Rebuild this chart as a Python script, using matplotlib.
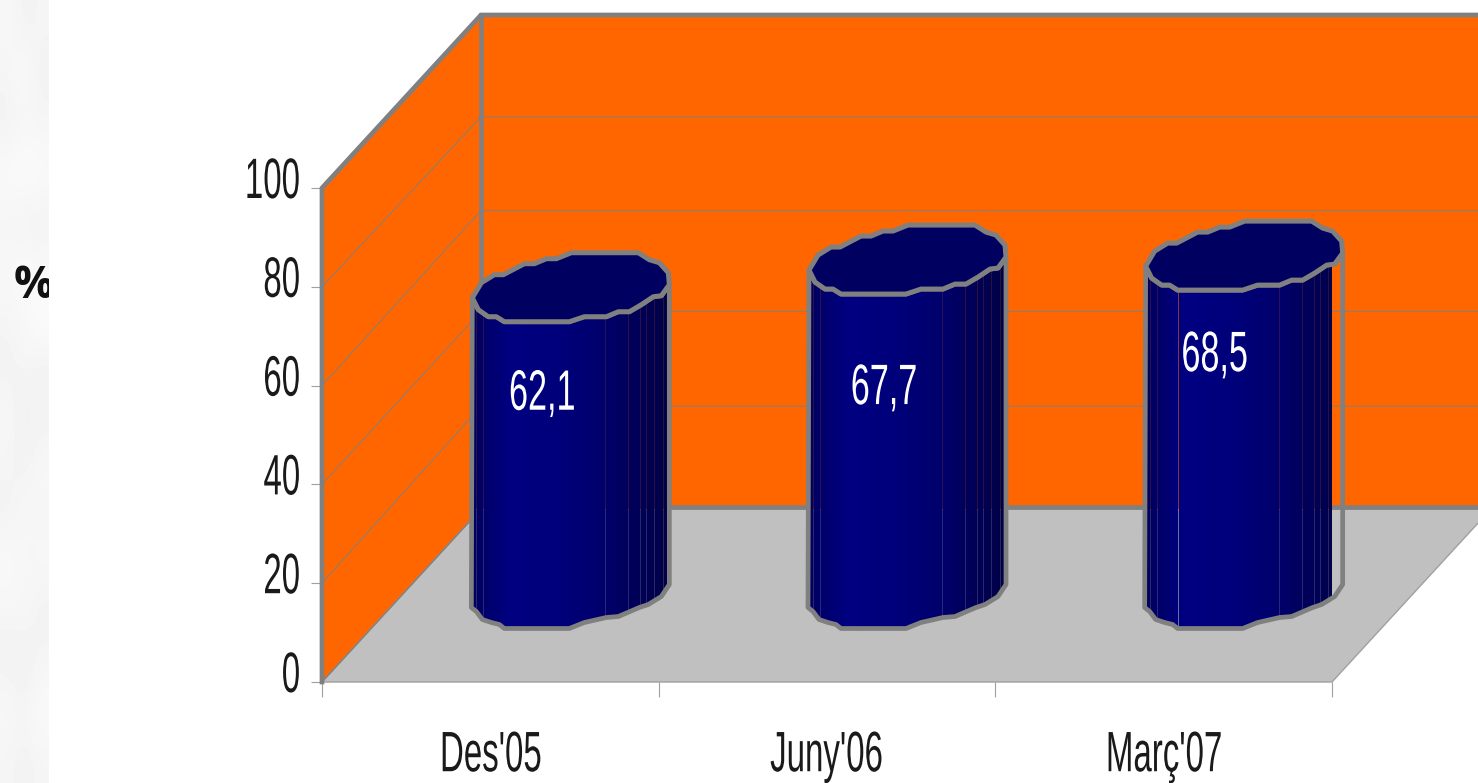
import numpy as np
import matplotlib
matplotlib.use("Agg")
import matplotlib.pyplot as plt
from matplotlib.patches import Polygon
from matplotlib.patheffects import AbstractPathEffect
from matplotlib.transforms import Affine2D

categories = ["Des'05", "Juny'06", "Març'07"]
values = [62.1, 67.7, 68.5]
value_labels = ["62,1", "67,7", "68,5"]
y_ticks = [0, 20, 40, 60, 80, 100]
unit_label = "%"

W, H = 1478, 783
ORANGE, FLOOR, EDGE, TEXT = "#FF6600", "#C0C0C0", "#808080", "#1a1a1a"
FONT = ["Liberation Sans", "DejaVu Sans"]
FS = 41
SQ = 0.58

plt.rcParams["font.family"] = FONT


class Squeeze(AbstractPathEffect):
    """Narrow the glyphs horizontally around an anchor (no condensed light font is installed)."""

    def __init__(self, sx, anchor="center", dy=0):
        super().__init__()
        self.sx, self.anchor, self.dy = sx, anchor, dy

    def draw_path(self, renderer, gc, tpath, affine, rgbFace=None):
        ext = affine.transform_path(tpath).get_extents()
        x0 = {"left": ext.x0, "center": (ext.x0 + ext.x1) / 2, "right": ext.x1}[self.anchor]
        squeezed = affine + Affine2D().translate(-x0, 0).scale(self.sx, 1).translate(x0, self.dy)
        renderer.draw_path(gc, tpath, squeezed, rgbFace)


fig = plt.figure(figsize=(W / 100, H / 100), dpi=100, facecolor="white")

# left blotchy stripe
stripe = fig.add_axes([0, 0, 49 / W, 1])
shade = np.array([
    [.97, .95, .96], [.96, .98, .95], [.95, .96, .96], [.98, .99, .98],
    [.96, .95, .95], [.97, .98, .97], [.96, .97, .99], [.95, .96, .95],
    [.97, .94, .95], [.96, .95, .97], [.95, .97, .96], [.98, .96, .97],
    [.96, .97, .95], [.95, .94, .96], [.97, .96, .98], [.96, .95, .96],
])
stripe.imshow(shade, cmap="gray", vmin=0, vmax=1, aspect="auto",
              interpolation="bicubic", extent=(0, 49, H, 0))
stripe.set_xlim(0, 49)
stripe.set_ylim(H, 0)
stripe.axis("off")
stripe.text(14, 287, unit_label, fontsize=32, fontweight="bold", family="Open Sans",
            color="#111111", ha="left", va="center", clip_on=True)

# main axes: the front plane of the 3-D box
LEFT, RIGHT, BOTTOM, TOP = 322, 1332, 682, 188
ax = fig.add_axes([LEFT / W, 1 - BOTTOM / H, (RIGHT - LEFT) / W, (BOTTOM - TOP) / H])
ax.set_facecolor("none")
ax.set_xlim(0, 3)
ax.set_ylim(0, 100)
PX = (RIGHT - LEFT) / 3
PY = (BOTTOM - TOP) / 100
DX, DY = 159 / PX, 173 / PY  # depth vector in data units


def box(pts, **kw):
    ax.add_patch(Polygon(pts, closed=True, clip_on=False, **kw))


box([(0, 0), (DX, DY), (DX, 100 + DY), (0, 100)], fc=ORANGE, ec="none", zorder=1)
box([(DX, DY), (3 + DX, DY), (3 + DX, 100 + DY), (DX, 100 + DY)], fc=ORANGE, ec="none", zorder=1)
box([(0, 0), (3, 0), (3 + DX, DY), (DX, DY)], fc=FLOOR, ec="#a0a0a0", lw=1, zorder=1.5)

grid_nudge = [-4, 0, -2, 3]  # the reference's rasterised gridlines, px up on the back wall
for t, n in zip(y_ticks[1:-1], grid_nudge):
    yb = t + DY - n / PY
    ax.plot([0, DX, 3 + DX], [t, yb, yb], color=EDGE, lw=0.7, clip_on=False, zorder=2)
for xs, ys, lw in [
    ([0, 0, DX, 3 + DX], [0, 100, 100 + DY, 100 + DY], 3.4),
    ([DX, DX], [100 + DY, DY], 3.4),
    ([DX, 3 + DX], [DY + 1.7 / PY, DY + 1.7 / PY], 3.4),
    ([0, DX], [0, DY], 1.0),
]:
    ax.plot(xs, ys, color=EDGE, lw=lw, clip_on=False, zorder=2.2, solid_joinstyle="miter")

# polygonal outline of a cylinder's end, pixels from its centre (x right, y down)
cap = np.array([
    (-98, 9), (-92, 21), (-82, 28), (-74, 28), (-66, 33), (-1, 33), (14, 28), (36, 28), (48, 23),
    (59, 23), (71, 16), (83, 8), (91, 7), (99, -4), (98, -16), (89, -26), (79, -29),
    (68, -36), (1, -36), (-14, -30), (-24, -30), (-36, -25), (-46, -25), (-67, -14),
    (-76, -14), (-89, -6),
], dtype=float)
front = cap[:14]  # left extreme round the front to right extreme
base_front = np.array([
    (-99, 12), (-94, 16), (-88, 24), (-79, 27), (-71, 29), (-66, 33), (-1, 33), (14, 27),
    (36, 22), (48, 21), (69, 12), (78, 9), (91, 1), (99, -11),
], dtype=float)
facets = [-94, -87, 35, 58, 70, 76, 84, 93, 98]
bright = np.array([-98, -88, -60, -10, 35, 60, 80, 99])
blue = np.array([92, 104, 130, 122, 108, 92, 82, 70])
gradient = np.zeros((1, 198, 3), dtype=np.uint8)
gradient[0, :, 2] = np.interp(np.linspace(-99, 99, 198), bright, blue)

for i, v in enumerate(values):
    cx, by = i + 0.5 + 160 / PX / 2, DY / 2
    to_data = lambda pts, y0: np.column_stack([cx + pts[:, 0] / PX, y0 - pts[:, 1] / PY])
    top = to_data(cap, by + v)
    f_top, f_base = to_data(front, by + v), to_data(base_front, by)
    body = np.vstack([f_top, f_base[::-1]])
    patch = Polygon(body, closed=True, fc="none", ec=EDGE, lw=3.4, joinstyle="round",
                    clip_on=False, zorder=4.5)
    im = ax.imshow(gradient, aspect="auto", interpolation="bilinear", zorder=3,
                   extent=(cx - 99 / PX, cx + 99 / PX, by - 40 / PY, by + v + 40 / PY))
    ax.add_patch(patch)
    im.set_clip_path(Polygon(body, closed=True, transform=ax.transData))
    # fine facet seams pick up what lies behind them
    for fx in facets:
        x = cx + fx / PX
        yt = np.interp(fx, front[:, 0], f_top[:, 1])
        yb = np.interp(fx, base_front[:, 0], f_base[:, 1])
        ym = max(DY, yb)
        ax.plot([x, x], [ym, yt], color=ORANGE, alpha=0.18, lw=0.7, zorder=3.5)
        ax.plot([x, x], [yb, ym], color=FLOOR, alpha=0.22, lw=0.7, zorder=3.5)
    if i == 2:  # one seam on the last cylinder shows through clearly
        x = cx - 66 / PX
        ax.plot([x, x], [DY, by + v - 33 / PY], color=ORANGE, alpha=0.55, lw=0.7, zorder=3.6)
        ax.plot([x, x], [by - 33 / PY, DY], color=FLOOR, alpha=0.6, lw=0.7, zorder=3.6)
    ax.add_patch(Polygon(top, closed=True, fc="#000060", ec=EDGE, lw=3.6, joinstyle="round",
                         clip_on=False, zorder=5))

# value labels
label_offsets = [(-28, 106), (-23, 128), (-29, 99)]
for i, (v, s, off) in enumerate(zip(values, value_labels, label_offsets)):
    cx, by = i + 0.5 + 160 / PX / 2, DY / 2
    ax.text(cx + off[0] / PX, by + v - off[1] / PY, s, color="white", fontsize=FS,
            ha="center", va="center", zorder=6, path_effects=[Squeeze(0.6, "center")])

# axes furniture
for s in ax.spines.values():
    s.set_visible(False)
ax.set_yticks(y_ticks)
ax.set_yticklabels([str(t) for t in y_ticks], fontsize=FS, color=TEXT,
                   path_effects=[Squeeze(SQ, "right", dy=11)])
ax.tick_params(axis="y", length=8, width=0.8, color="#a0a0a0", pad=7)
ax.set_xticks(range(len(categories) + 1))
ax.set_xticklabels([])
ax.tick_params(axis="x", which="major", length=11, width=0.8, color="#a0a0a0")
ax.set_xticks(np.arange(len(categories)) + 0.5, minor=True)
ax.set_xticklabels(categories, minor=True, fontsize=FS, color=TEXT,
                   path_effects=[Squeeze(SQ, "center")])
ax.tick_params(axis="x", which="minor", length=0, pad=34)
ax.set_xlim(0, 3)
ax.set_ylim(0, 100)

fig.savefig("out.png", dpi=100)
